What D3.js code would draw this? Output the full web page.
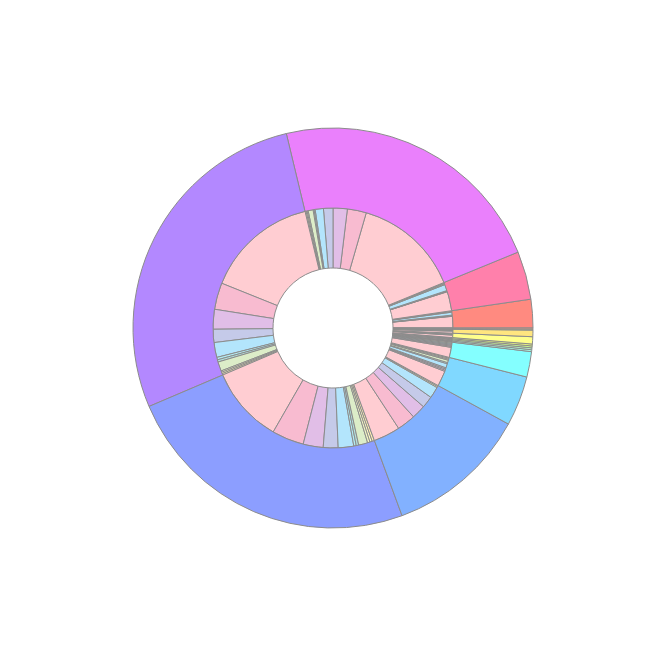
<!DOCTYPE html>
<html>
<head>
<meta charset="utf-8">
<script src="https://cdn.jsdelivr.net/npm/d3@7"></script>
<style>
  html, body { margin: 0; padding: 0; background: #ffffff; }
  svg { display: block; }
</style>
</head>
<body>
<svg id="chart" width="650" height="650"></svg>
<script>
// Outer ring: parent categories (drawn counter-clockwise from 3 o'clock)
const parents = ["Red", "Pink", "Purple", "Deep Purple", "Indigo", "Blue", "Light Blue", "Cyan",
                 "Teal", "Green", "Light Green", "Lime", "Yellow", "Amber", "Orange", "Deep Orange"];
const parentColors = ["#ff8a80", "#ff80ab", "#ea80fc", "#b388ff", "#8c9eff", "#82b1ff", "#80d8ff", "#84ffff",
                      "#a7ffeb", "#b9f6ca", "#ccff90", "#f4ff81", "#ffff8d", "#ffe57f", "#ffd180", "#ff9e80"];

// Inner ring: child categories
const children = ["C1", "C2", "C3", "C4", "C5", "C6", "C7", "C8", "C9", "C10", "C11"];
const childColors = ["#ffcdd2", "#f8bbd0", "#e1bee7", "#c5cae9", "#b3e5fc", "#b2ebf2", "#b2dfdb",
                     "#dcedc8", "#f0f4c3", "#fff9c4", "#ffecb3"];

// Child values per parent (same order as parents / children)
const valRed        = [5.6, 0.2, 0.2, 0.2, 1.4, 0, 0, 0, 0.3, 0.2, 0.2];
const valPink       = [9.3, 0.2, 0.2, 0.2, 3.0, 0, 0, 0, 0.4, 0.4, 0.3];
const valPurple     = [51.6, 9.2, 6.9, 4.6, 4.0, 0.5, 0.5, 2.4, 0.5, 0.5, 0.5];
const valDeepPurple = [54.6, 12.9, 9.6, 6.4, 7.2, 1.2, 1.1, 4.5, 0.7, 0.7, 0.7];
const valIndigo     = [37.0, 15.5, 9.7, 7.2, 7.5, 1.2, 1.2, 4.4, 1.2, 1.1, 1.1];
const valBlue       = [13.0, 9.0, 6.8, 5.7, 5.5, 0, 0, 0, 0.6, 0.5, 0];
const valLightBlue  = [7.5, 0.6, 0.6, 0.6, 2.0, 0.6, 0, 1.2, 0.5, 0.5, 0.4];
const valCyan       = [4.9, 0.5, 0.5, 0.5, 0.5, 0, 0, 0.5, 0, 0, 0];
const valTeal       = [0.35, 0, 0, 0, 0.2, 0, 0, 0, 0, 0, 0];
const valGreen      = [0.35, 0, 0, 0, 0.2, 0, 0, 0, 0, 0, 0];
const valLightGreen = [0.35, 0, 0, 0, 0.2, 0, 0, 0, 0, 0, 0];
const valLime       = [0.35, 0, 0, 0, 0.2, 0, 0, 0, 0, 0, 0];
const valYellow     = [1.2, 0, 0, 0, 0.3, 0, 0, 0.3, 0.3, 0, 0];
const valAmber      = [1.0, 0, 0, 0, 0.3, 0, 0, 0.3, 0.3, 0, 0];
const valOrange     = [0.2, 0, 0, 0, 0.1, 0, 0, 0, 0, 0, 0];
const valDeepOrange = [0.2, 0, 0, 0, 0.1, 0, 0, 0, 0, 0, 0];

const childValues = [valRed, valPink, valPurple, valDeepPurple, valIndigo, valBlue, valLightBlue, valCyan,
                     valTeal, valGreen, valLightGreen, valLime, valYellow, valAmber, valOrange, valDeepOrange];

const width = 650, height = 650;
const cx = 333, cy = 328;
const rHole = 60, rMid = 120, rOuter = 200;
const strokeColor = "#8c8c8c";

const svg = d3.select("#chart");
const g = svg.append("g").attr("transform", `translate(${cx},${cy})`);

const parentData = parents.map((name, i) => ({
  name, i, value: d3.sum(childValues[i])
}));

// counter-clockwise from 3 o'clock
const pie = d3.pie().sort(null).value(d => d.value)
  .startAngle(Math.PI / 2).endAngle(Math.PI / 2 - 2 * Math.PI);
const parentArcs = pie(parentData);

const outerArc = d3.arc().innerRadius(rMid).outerRadius(rOuter);
const innerArc = d3.arc().innerRadius(rHole).outerRadius(rMid);

// inner ring children
const childArcs = [];
parentArcs.forEach(pa => {
  const items = childValues[pa.data.i]
    .map((v, j) => ({ parent: pa.data.name, child: children[j], j, value: v }))
    .filter(d => d.value > 0);
  const sub = d3.pie().sort(null).value(d => d.value)
    .startAngle(pa.startAngle).endAngle(pa.endAngle)(items);
  childArcs.push(...sub);
});

g.append("g").selectAll("path")
  .data(childArcs)
  .join("path")
  .attr("d", innerArc)
  .attr("fill", d => childColors[d.data.j])
  .attr("stroke", strokeColor)
  .attr("stroke-width", 1);

g.append("g").selectAll("path")
  .data(parentArcs)
  .join("path")
  .attr("d", outerArc)
  .attr("fill", d => parentColors[d.data.i])
  .attr("stroke", strokeColor)
  .attr("stroke-width", 1);
</script>
</body>
</html>
